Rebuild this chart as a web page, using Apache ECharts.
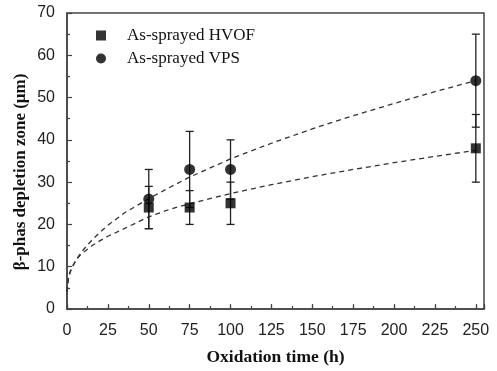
<!DOCTYPE html>
<html>
<head>
<meta charset="utf-8">
<script src="https://cdn.jsdelivr.net/npm/echarts@6/dist/echarts.min.js"></script>
<style>html,body{margin:0;padding:0;background:#fff;}#c{width:497px;height:371px;}</style>
</head>
<body>
<div id="c"></div>
<script>
// Measured points
var times = [50, 75, 100, 250];
var hvofMean = [24, 24, 25, 38];
var hvofLow = [19, 20, 20, 30];
var hvofHigh = [29, 28, 30, 46];
var vpsMean = [26, 33, 33, 54];
var vpsLow = [19, 24, 26, 43];
var vpsHigh = [33, 42, 40, 65];
// Dashed fitted curves
var fitTimes = [0, 1, 2, 4, 6, 8, 10, 15, 20, 25, 35, 50, 63, 75, 100, 125, 150, 175, 200, 225, 250];
var vpsFit = [4, 7.5, 8.8, 10.5, 11.9, 13, 14, 16.2, 18.1, 19.8, 22.7, 26.1, 28.8, 31.2, 35.5, 39.2, 42.6, 45.7, 48.6, 51.4, 54];
var hvofFit = [4, 7.6, 8.9, 10.5, 11.8, 12.7, 13.4, 14.9, 16.1, 17.2, 19, 21.8, 23.6, 24.9, 27.3, 29.4, 31.3, 33, 34.6, 36.1, 37.5];
var xTicks = [0, 25, 50, 75, 100, 125, 150, 175, 200, 225, 250];
var yTitle = 'β-phas depletion zone (μm)';

function pairs(xs, ys) { return xs.map(function (x, i) { return [x, ys[i]]; }); }
function errs(xs, lo, hi) { return xs.map(function (x, i) { return [x, lo[i], hi[i]]; }); }

var axisColor = '#444';
function errRender(params, api) {
  var x = api.value(0);
  var lo = api.coord([x, api.value(1)]);
  var hi = api.coord([x, api.value(2)]);
  var cw = 4;
  var st = { stroke: '#222', lineWidth: 1.3 };
  return {
    type: 'group',
    children: [
      { type: 'line', shape: { x1: lo[0], y1: lo[1], x2: hi[0], y2: hi[1] }, style: st },
      { type: 'line', shape: { x1: lo[0] - cw, y1: lo[1], x2: lo[0] + cw, y2: lo[1] }, style: st },
      { type: 'line', shape: { x1: hi[0] - cw, y1: hi[1], x2: hi[0] + cw, y2: hi[1] }, style: st }
    ]
  };
}

var chart = echarts.init(document.getElementById('c'), null, { renderer: 'canvas' });
chart.setOption({
  animation: false,
  backgroundColor: '#fff',
  grid: { left: 67, right: 13, top: 13, bottom: 55, show: true, borderColor: axisColor, borderWidth: 1.5, backgroundColor: 'transparent' },
  graphic: [{
    type: 'text', x: 21, y: 172, rotation: Math.PI / 2,
    style: { text: yTitle, fontFamily: 'Liberation Serif', fontWeight: 'bold', fontSize: 17, fill: '#111',
      textAlign: 'center', textVerticalAlign: 'middle' }
  }],
  legend: {
    data: ['As-sprayed HVOF', 'As-sprayed VPS'],
    orient: 'vertical',
    left: 91, top: 22,
    itemWidth: 10, itemHeight: 10, itemGap: 6, itemTextGap: 21,
    textStyle: { fontFamily: 'Liberation Serif', fontSize: 17, color: '#111', padding: [0, 0, 0, 16] }
  },
  xAxis: [{
    type: 'value', min: 0, max: 255, interval: 25,
    name: 'Oxidation time (h)', nameLocation: 'middle', nameGap: 39,
    nameTextStyle: { fontFamily: 'Liberation Serif', fontWeight: 'bold', fontSize: 17.5, color: '#111' },
    axisLine: { show: true, lineStyle: { color: axisColor, width: 1.5 } },
    axisTick: { show: true, inside: true, length: 5, lineStyle: { color: axisColor, width: 1.2 } },
    axisLabel: { fontFamily: 'Liberation Sans', fontSize: 16, color: '#222', margin: 14,
      formatter: function (v) { return xTicks.indexOf(v) >= 0 ? String(v) : ''; } },
    splitLine: { show: false }
  }, {
    type: 'value', min: 0, max: 255, interval: 12.5, position: 'bottom',
    axisLine: { show: false },
    axisTick: { show: true, inside: true, length: 3, lineStyle: { color: axisColor, width: 1.2 } },
    axisLabel: { show: false }, splitLine: { show: false }
  }],
  yAxis: {
    type: 'value', min: 0, max: 70, interval: 10,
    axisLine: { show: true, lineStyle: { color: axisColor, width: 1.5 } },
    axisTick: { show: true, inside: true, length: 5, lineStyle: { color: axisColor, width: 1.2 } },
    minorTick: { show: true, splitNumber: 2, length: 3, lineStyle: { color: axisColor, width: 1.2 } },
    axisLabel: { fontFamily: 'Liberation Sans', fontSize: 16, color: '#222', margin: 12 },
    splitLine: { show: false }, minorSplitLine: { show: false }
  },
  series: [
    { name: 'fitVPS', type: 'line', data: pairs(fitTimes, vpsFit), smooth: false, symbol: 'none',
      lineStyle: { color: '#333', width: 1.3, type: [5, 4] }, z: 1, silent: true },
    { name: 'fitHVOF', type: 'line', data: pairs(fitTimes, hvofFit), smooth: false, symbol: 'none',
      lineStyle: { color: '#333', width: 1.3, type: [5, 4] }, z: 1, silent: true },
    { name: 'errHVOF', type: 'custom', renderItem: errRender, data: errs(times, hvofLow, hvofHigh), z: 2,
      encode: { x: 0, y: [1, 2] } },
    { name: 'errVPS', type: 'custom', renderItem: errRender, data: errs(times, vpsLow, vpsHigh), z: 2,
      encode: { x: 0, y: [1, 2] } },
    { name: 'As-sprayed HVOF', type: 'scatter', data: pairs(times, hvofMean), symbol: 'rect', symbolSize: 10,
      itemStyle: { color: '#000' }, z: 3 },
    { name: 'As-sprayed VPS', type: 'scatter', data: pairs(times, vpsMean), symbol: 'circle', symbolSize: 11,
      itemStyle: { color: '#000' }, z: 3 }
  ]
});
</script>
</body>
</html>
